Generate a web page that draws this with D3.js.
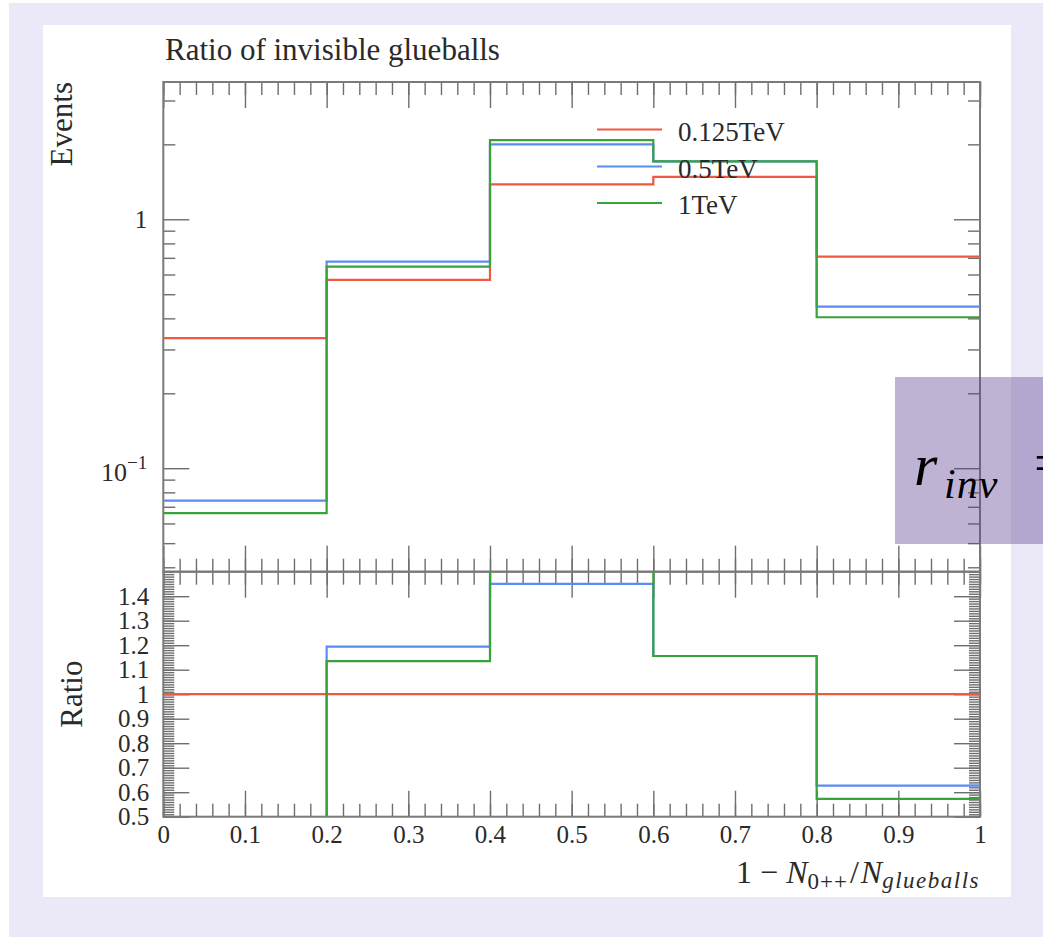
<!DOCTYPE html>
<html>
  <head>
    <meta charset="UTF-8" />
    <script src="https://d3js.org/d3.v7.min.js"></script>
    <style>
      body { margin: 0; background: #fff; }
    </style>
  </head>
  <body>
    <div id="my_dataviz"></div>

    <script>
      var width = 1043,
        height = 937;

      // bin edges and histogram values
      const binEdges = [0, 0.2, 0.4, 0.6, 0.8, 1.0];
      const seriesNames = ["0.125TeV", "0.5TeV", "1TeV"];
      const seriesColors = ["#f0583f", "#5a8cf2", "#38a33a"];

      const events125 = [0.333, 0.571, 1.38, 1.48, 0.708];
      const events500 = [0.0741, 0.676, 2.0, 1.71, 0.446];
      const events1000 = [0.066, 0.645, 2.08, 1.71, 0.404];

      const ratio125 = [1, 1, 1, 1, 1];
      const ratio500 = [0.222, 1.194, 1.45, 1.156, 0.627];
      const ratio1000 = [0.198, 1.135, 1.507, 1.156, 0.573];

      const xTickValues = [0, 0.1, 0.2, 0.3, 0.4, 0.5, 0.6, 0.7, 0.8, 0.9, 1];
      const xTickLabels = ["0", "0.1", "0.2", "0.3", "0.4", "0.5", "0.6", "0.7", "0.8", "0.9", "1"];
      const eventsMajor = [0.1, 1];
      const eventsMinor = [0.04, 0.05, 0.06, 0.07, 0.08, 0.09, 0.2, 0.3, 0.4, 0.5, 0.6, 0.7, 0.8, 0.9, 2, 3];
      const ratioTickValues = [0.5, 0.6, 0.7, 0.8, 0.9, 1, 1.1, 1.2, 1.3, 1.4];
      const ratioTickLabels = ["0.5", "0.6", "0.7", "0.8", "0.9", "1", "1.1", "1.2", "1.3", "1.4"];

      var events = [events125, events500, events1000];
      var ratios = [ratio125, ratio500, ratio1000];

      var serif = "'Liberation Serif', 'DejaVu Serif', serif";
      var frameColor = "#7a7a7a";
      var tickColor = "#6e6e6e";
      var textColor = "#2a2a2a";

      var svg = d3
        .select("#my_dataviz")
        .append("svg")
        .attr("width", width)
        .attr("height", height);

      // page backgrounds
      svg.append("rect")
        .attr("x", 9).attr("y", 3)
        .attr("width", width - 9).attr("height", height - 3)
        .attr("fill", "#ebe9f7");
      svg.append("rect")
        .attr("x", 43).attr("y", 25)
        .attr("width", 968).attr("height", 872)
        .attr("fill", "#ffffff");

      var pLeft = 163.3, pRight = 980, pTop = 82, pMid = 571.7, pBottom = 816.7;

      var xScale = d3.scaleLinear().domain([0, 1]).range([pLeft, pRight]);
      var yScale = d3.scaleLog().domain([0.0384, 3.56]).range([pMid, pTop]);
      var rScale = d3.scaleLinear().domain([0.5, 1.5]).range([pBottom, pMid]);

      var xMinor = d3.range(0, 1.0001, 0.02).map((d) => +d.toFixed(2));
      var rMinor = d3.range(0.5, 1.5001, 0.01).map((d) => +d.toFixed(2));

      function styleTicks(g) {
        g.select(".domain").remove();
        g.selectAll("line").attr("stroke", tickColor).attr("stroke-width", 1.4);
      }

      function ticks(axis, values, size, tx, ty) {
        svg.append("g")
          .attr("transform", "translate(" + tx + "," + ty + ")")
          .call(axis.tickValues(values).tickSize(size).tickFormat(""))
          .call(styleTicks);
      }

      // upper panel ticks
      ticks(d3.axisBottom(xScale), xTickValues, 26, 0, pTop);
      ticks(d3.axisBottom(xScale), xMinor, 13, 0, pTop);
      ticks(d3.axisTop(xScale), xTickValues, 26, 0, pMid);
      ticks(d3.axisTop(xScale), xMinor, 13, 0, pMid);
      ticks(d3.axisRight(yScale), eventsMajor, 26, pLeft, 0);
      ticks(d3.axisRight(yScale), eventsMinor, 12, pLeft, 0);
      ticks(d3.axisLeft(yScale), eventsMajor, 26, pRight, 0);
      ticks(d3.axisLeft(yScale), eventsMinor, 12, pRight, 0);

      // ratio panel ticks
      ticks(d3.axisBottom(xScale), xTickValues, 26, 0, pMid);
      ticks(d3.axisBottom(xScale), xMinor, 13, 0, pMid);
      ticks(d3.axisTop(xScale), xTickValues, 26, 0, pBottom);
      ticks(d3.axisTop(xScale), xMinor, 13, 0, pBottom);
      ticks(d3.axisRight(rScale), ratioTickValues, 26, pLeft, 0);
      ticks(d3.axisRight(rScale), rMinor, 11, pLeft, 0);
      ticks(d3.axisLeft(rScale), ratioTickValues, 26, pRight, 0);
      ticks(d3.axisLeft(rScale), rMinor, 11, pRight, 0);

      // tick labels
      var xLab = svg.append("g")
        .attr("transform", "translate(0," + pBottom + ")")
        .call(d3.axisBottom(xScale).tickValues(xTickValues).tickSize(0).tickPadding(9)
          .tickFormat((d, i) => xTickLabels[i]));
      xLab.select(".domain").remove();
      xLab.selectAll("text").attr("font-family", serif).attr("font-size", 25).attr("fill", textColor);

      var rLab = svg.append("g")
        .attr("transform", "translate(" + pLeft + ",0)")
        .call(d3.axisLeft(rScale).tickValues(ratioTickValues).tickSize(0).tickPadding(14)
          .tickFormat((d, i) => ratioTickLabels[i]));
      rLab.select(".domain").remove();
      rLab.selectAll("text").attr("font-family", serif).attr("font-size", 25).attr("fill", textColor);

      var yLab = svg.append("g")
        .attr("font-family", serif)
        .attr("fill", textColor)
        .attr("text-anchor", "end");
      yLab.append("text")
        .attr("x", pLeft - 16)
        .attr("y", yScale(1) + 9)
        .attr("font-size", 25)
        .text("1");
      var tenth = yLab.append("text")
        .attr("x", pLeft - 16)
        .attr("y", yScale(0.1) + 13)
        .attr("font-size", 26);
      tenth.append("tspan").text("10");
      tenth.append("tspan").attr("dy", -12).attr("font-size", 19).text("\u22121");

      // frames
      svg.append("rect")
        .attr("x", pLeft).attr("y", pTop)
        .attr("width", pRight - pLeft).attr("height", pMid - pTop)
        .attr("fill", "none").attr("stroke", frameColor).attr("stroke-width", 2);
      svg.append("rect")
        .attr("x", pLeft).attr("y", pMid)
        .attr("width", pRight - pLeft).attr("height", pBottom - pMid)
        .attr("fill", "none").attr("stroke", frameColor).attr("stroke-width", 2);

      // clip paths
      var defs = svg.append("defs");
      defs.append("clipPath").attr("id", "clipTop")
        .append("rect").attr("x", pLeft).attr("y", pTop)
        .attr("width", pRight - pLeft).attr("height", pMid - pTop);
      defs.append("clipPath").attr("id", "clipRatio")
        .append("rect").attr("x", pLeft).attr("y", pMid)
        .attr("width", pRight - pLeft).attr("height", pBottom - pMid);

      function stepPoints(vals) {
        var pts = vals.map((v, i) => [binEdges[i], v]);
        pts.push([binEdges[binEdges.length - 1], vals[vals.length - 1]]);
        return pts;
      }

      var eventsLine = d3.line()
        .x((d) => xScale(d[0]))
        .y((d) => yScale(d[1]))
        .curve(d3.curveStepAfter);
      var ratioLine = d3.line()
        .x((d) => xScale(d[0]))
        .y((d) => rScale(Math.max(0.3, Math.min(1.7, d[1]))))
        .curve(d3.curveStepAfter);

      svg.append("g")
        .attr("clip-path", "url(#clipTop)")
        .selectAll("path")
        .data(events)
        .join("path")
        .attr("fill", "none")
        .attr("stroke-width", 2.2)
        .attr("stroke", (d, i) => seriesColors[i])
        .attr("d", (d) => eventsLine(stepPoints(d)));

      svg.append("g")
        .attr("clip-path", "url(#clipRatio)")
        .selectAll("path")
        .data(ratios)
        .join("path")
        .attr("fill", "none")
        .attr("stroke-width", 2.2)
        .attr("stroke", (d, i) => seriesColors[i])
        .attr("d", (d) => ratioLine(stepPoints(d)));

      // legend
      var legend = svg.append("g").attr("font-family", serif).attr("fill", textColor);
      var legendY = [129.5, 166.5, 203];
      seriesNames.forEach(function (name, i) {
        legend.append("line")
          .attr("x1", 597).attr("x2", 662)
          .attr("y1", legendY[i]).attr("y2", legendY[i])
          .attr("stroke", seriesColors[i]).attr("stroke-width", 2.2);
        legend.append("text")
          .attr("x", 678).attr("y", legendY[i] + 11)
          .attr("font-size", 27)
          .text(name);
      });

      // title and axis labels
      svg.append("text")
        .attr("x", 165).attr("y", 59.5)
        .attr("font-family", serif).attr("font-size", 31).attr("fill", textColor)
        .text("Ratio of invisible glueballs");

      svg.append("text")
        .attr("transform", "translate(71.7," + pTop + ") rotate(-90)")
        .attr("text-anchor", "end")
        .attr("font-family", serif).attr("font-size", 31).attr("fill", textColor)
        .text("Events");

      svg.append("text")
        .attr("transform", "translate(81.7," + rScale(1) + ") rotate(-90)")
        .attr("text-anchor", "middle")
        .attr("font-family", serif).attr("font-size", 31).attr("fill", textColor)
        .text("Ratio");

      var xTitle = svg.append("text")
        .attr("x", pRight).attr("y", 883)
        .attr("text-anchor", "end")
        .attr("font-family", serif).attr("font-size", 32).attr("fill", textColor);
      xTitle.append("tspan").text("1 \u2212 ");
      xTitle.append("tspan").attr("font-style", "italic").text("N");
      xTitle.append("tspan").attr("font-size", 23).attr("dy", 6).attr("letter-spacing", 1).text("0++");
      xTitle.append("tspan").attr("dy", -6).attr("dx", 2).text("/");
      xTitle.append("tspan").attr("font-style", "italic").attr("dx", 2).text("N");
      xTitle.append("tspan").attr("font-size", 23).attr("dy", 5)
        .attr("font-style", "italic").attr("letter-spacing", 1.5).text("glueballs");

      // overlay box from the slide
      svg.append("rect")
        .attr("x", 895).attr("y", 377)
        .attr("width", 160).attr("height", 167)
        .attr("fill", "rgb(95,65,148)").attr("fill-opacity", 0.4);
      var rinv = svg.append("g")
        .attr("font-family", serif).attr("fill", "#000");
      rinv.append("text")
        .attr("x", 914).attr("y", 485)
        .attr("font-size", 60).attr("font-style", "italic")
        .text("r");
      rinv.append("text")
        .attr("x", 944).attr("y", 498)
        .attr("font-size", 42).attr("font-style", "italic").attr("letter-spacing", 1)
        .text("inv");
      rinv.append("text")
        .attr("x", 1034).attr("y", 482)
        .attr("font-size", 56)
        .text("=");
    </script>
  </body>
</html>
